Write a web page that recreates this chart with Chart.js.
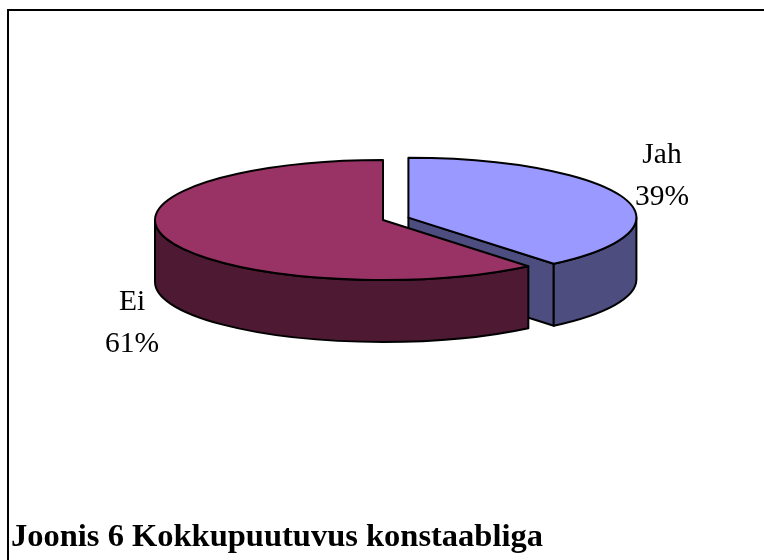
<!DOCTYPE html>
<html>
<head>
<meta charset="utf-8">
<script src="https://cdn.jsdelivr.net/npm/chart.js"></script>
<style>
  html, body { margin: 0; padding: 0; background: #fff; }
  #wrap { position: relative; width: 764px; height: 560px; overflow: hidden; }
  #frame {
    position: absolute; left: 7px; top: 9px; width: 800px; height: 600px;
    border-left: 2px solid #000; border-top: 2px solid #000;
  }
  #pie { position: absolute; left: 0; top: 0; }
  #caption {
    position: absolute; left: 11px; top: 517px; margin: 0;
    font: bold 32.5px "Liberation Serif", "Times New Roman", serif;
    line-height: 37px; white-space: nowrap;
  }
</style>
</head>
<body>
<div id="wrap">
  <div id="frame"></div>
  <canvas id="pie" width="764" height="560"></canvas>
  <p id="caption">Joonis 6 Kokkupuutuvus konstaabliga</p>
</div>
<script>
// Andmed (loetud jooniselt)
const categories = ['Jah', 'Ei'];
const shares = [39, 61];
const percentLabels = ['39%', '61%'];

// Värvid: pealispind ja külg
const topColors = ['#9999FF', '#993366'];
const sideColors = ['#4D4D80', '#4D1933'];

// Sildi asukoht kaare keskpunkti suhtes (x, esimese rea baasjoon)
const labelOffsets = [[279, -57], [-251, 90]];

// Plugin, mis joonistab Chart.js kaared 3D-kettana
const pie3d = {
  id: 'pie3d',
  beforeDatasetDraw(chart, args, opts) {
    const ctx = chart.ctx;
    const tilt = opts.tilt, depth = opts.depth;
    const slices = args.meta.data.map((arc, i) => {
      const p = arc.getProps(['x', 'y', 'startAngle', 'endAngle', 'outerRadius']);
      const mid = (p.startAngle + p.endAngle) / 2;
      const off = arc.options.offset || 0;
      return {
        cx: p.x + off * Math.cos(mid),
        cy: p.y + off * Math.sin(mid) * tilt,
        rx: p.outerRadius, ry: p.outerRadius * tilt,
        s: p.startAngle, e: p.endAngle,
        top: topColors[i], side: sideColors[i]
      };
    });
    const pt = (sl, a) => [sl.cx + sl.rx * Math.cos(a), sl.cy + sl.ry * Math.sin(a)];

    ctx.save();
    ctx.lineWidth = 2;
    ctx.strokeStyle = '#000';
    ctx.lineJoin = 'round';

    // Lõikepinnad (ainult vaatajale nähtavad)
    slices.forEach(sl => {
      const faces = [];
      if (Math.cos(sl.e) > 1e-6) faces.push(sl.e);
      if (-Math.cos(sl.s) > 1e-6) faces.push(sl.s);
      faces.forEach(a => {
        const [x, y] = pt(sl, a);
        ctx.beginPath();
        ctx.moveTo(sl.cx, sl.cy);
        ctx.lineTo(x, y);
        ctx.lineTo(x, y + depth);
        ctx.lineTo(sl.cx, sl.cy + depth);
        ctx.closePath();
        ctx.fillStyle = sl.side;
        ctx.fill();
        ctx.stroke();
      });
    });

    // Välisküljed (esipool, nurgad 0..PI)
    slices.forEach(sl => {
      for (let k = -1; k <= 1; k++) {
        const lo = Math.max(sl.s, 2 * Math.PI * k);
        const hi = Math.min(sl.e, Math.PI + 2 * Math.PI * k);
        if (hi - lo < 1e-6) continue;
        const [x2, y2] = pt(sl, hi);
        ctx.beginPath();
        ctx.ellipse(sl.cx, sl.cy, sl.rx, sl.ry, 0, lo, hi);
        ctx.lineTo(x2, y2 + depth);
        ctx.ellipse(sl.cx, sl.cy + depth, sl.rx, sl.ry, 0, hi, lo, true);
        ctx.closePath();
        ctx.fillStyle = sl.side;
        ctx.fill();
        ctx.stroke();
      }
    });

    // Pealispinnad
    slices.forEach(sl => {
      ctx.beginPath();
      ctx.moveTo(sl.cx, sl.cy);
      ctx.ellipse(sl.cx, sl.cy, sl.rx, sl.ry, 0, sl.s, sl.e);
      ctx.closePath();
      ctx.fillStyle = sl.top;
      ctx.fill();
      ctx.stroke();
    });

    // Sildid
    ctx.fillStyle = '#000';
    ctx.font = '29.5px "Liberation Serif", "Times New Roman", serif';
    ctx.textAlign = 'center';
    ctx.textBaseline = 'alphabetic';
    const base = args.meta.data[0];
    categories.forEach((c, i) => {
      const [dx, dy] = labelOffsets[i];
      ctx.fillText(c, base.x + dx, base.y + dy);
      ctx.fillText(percentLabels[i], base.x + dx, base.y + dy + 42);
    });
    ctx.restore();
    return false;
  }
};

new Chart(document.getElementById('pie'), {
  type: 'pie',
  data: {
    labels: categories,
    datasets: [{
      data: shares,
      backgroundColor: topColors,
      borderWidth: 0,
      offset: [27, 0]
    }]
  },
  options: {
    responsive: false,
    animation: false,
    events: [],
    radius: 228,
    layout: { padding: { left: 2, right: 0, top: 0, bottom: 120 } },
    plugins: {
      legend: { display: false },
      tooltip: { enabled: false },
      title: { display: false },
      pie3d: { tilt: 0.263, depth: 62 }
    }
  },
  plugins: [pie3d]
});
</script>
</body>
</html>
